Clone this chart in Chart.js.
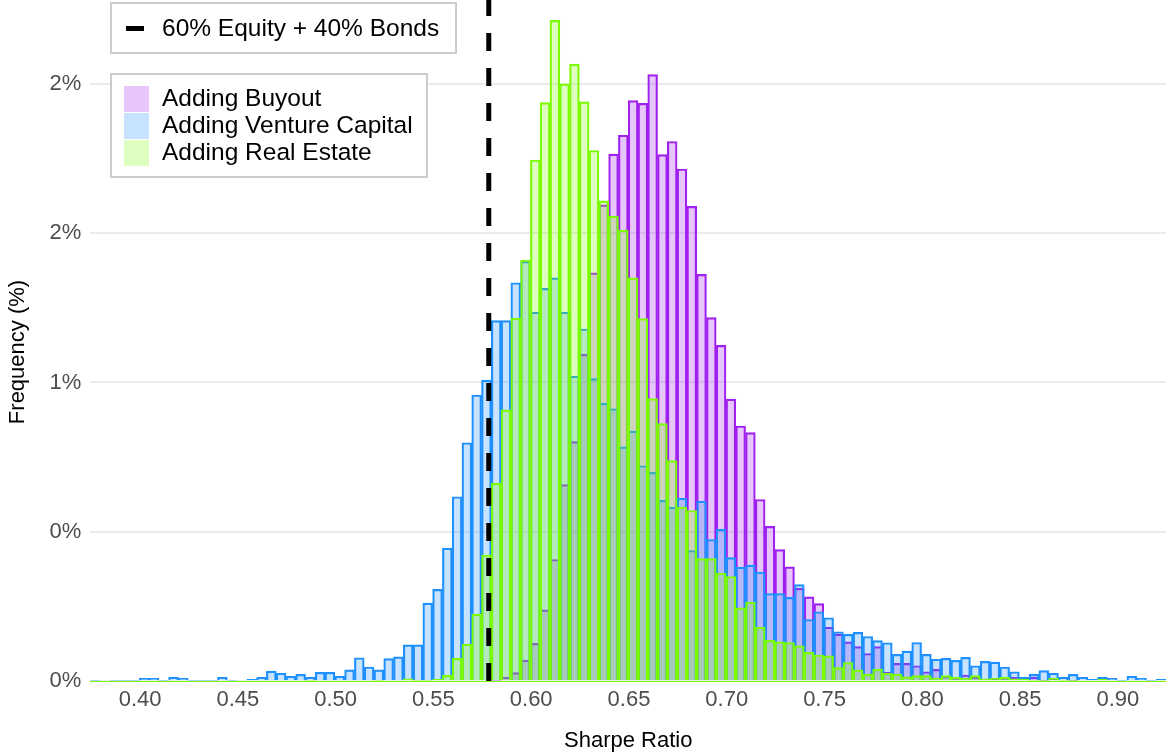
<!DOCTYPE html>
<html>
<head>
<meta charset="utf-8">
<script src="https://cdn.jsdelivr.net/npm/chart.js@4/dist/chart.umd.min.js"></script>
<style>
  body { margin: 0; background: #fff; }
  #wrap { width: 1166px; height: 756px; position: relative; }
</style>
</head>
<body>
<div id="wrap"><canvas id="chartSharpe"></canvas></div>
<script>
// histogram bins (Sharpe ratio), 0.005 wide
const binStart = 0.3746;
const binWidth = 0.005;

// frequency in %, one value per bin
const buyout = [
  0, 0, 0, 0, 0, 0, 0, 0, 0, 0,
  0, 0, 0, 0, 0, 0, 0, 0, 0, 0,
  0, 0, 0, 0, 0, 0, 0, 0, 0, 0,
  0, 0, 0, 0, 0, 0, 0, 0, 0, 0,
  0, 0.003, 0.012, 0.028, 0.070, 0.126, 0.238, 0.407, 0.658, 0.802,
  1.094, 1.367, 1.595, 1.765, 1.828, 1.944, 1.935, 2.031, 1.763, 1.807,
  1.715, 1.590, 1.362, 1.217, 1.124, 0.944, 0.854, 0.832, 0.608, 0.518,
  0.440, 0.382, 0.310, 0.282, 0.259, 0.180, 0.157, 0.131, 0.115, 0.092,
  0.115, 0.029, 0.059, 0.059, 0.051, 0.031, 0.039, 0.015, 0.009, 0.020,
  0.012, 0.004, 0.006, 0.009, 0.012, 0.009, 0.012, 0.003, 0.006, 0,
  0.003, 0, 0, 0, 0, 0, 0, 0, 0, 0
];
const ventureCapital = [
  0.003, 0, 0.003, 0.003, 0.003, 0.009, 0.009, 0.003, 0.012, 0.009,
  0.003, 0.003, 0.003, 0.012, 0.003, 0, 0.006, 0.012, 0.033, 0.026,
  0.016, 0.022, 0.012, 0.029, 0.029, 0.016, 0.037, 0.078, 0.047, 0.037,
  0.075, 0.081, 0.121, 0.121, 0.261, 0.307, 0.445, 0.617, 0.798, 0.958,
  1.008, 1.207, 1.207, 1.334, 1.405, 1.235, 1.315, 1.350, 1.235, 1.021,
  1.179, 1.013, 0.930, 0.912, 0.784, 0.837, 0.721, 0.699, 0.605, 0.582,
  0.612, 0.437, 0.602, 0.474, 0.508, 0.413, 0.381, 0.388, 0.365, 0.293,
  0.293, 0.280, 0.323, 0.206, 0.232, 0.212, 0.165, 0.156, 0.163, 0.149,
  0.135, 0.128, 0.089, 0.100, 0.129, 0.089, 0.073, 0.076, 0.069, 0.079,
  0.051, 0.066, 0.063, 0.047, 0.031, 0.012, 0.022, 0.035, 0.026, 0.012,
  0.022, 0.012, 0.006, 0.012, 0.009, 0.003, 0.016, 0.009, 0.003, 0.006
];
const realEstate = [
  0, 0, 0, 0, 0, 0, 0, 0, 0, 0,
  0, 0, 0, 0, 0, 0, 0, 0, 0, 0,
  0, 0, 0.003, 0, 0, 0, 0, 0, 0, 0.003,
  0, 0, 0.007, 0.003, 0.003, 0.006, 0.019, 0.076, 0.123, 0.224,
  0.422, 0.662, 0.908, 1.215, 1.410, 1.745, 1.937, 2.213, 2.000, 2.066,
  1.940, 1.777, 1.608, 1.557, 1.510, 1.350, 1.214, 0.946, 0.862, 0.738,
  0.582, 0.571, 0.410, 0.410, 0.361, 0.350, 0.245, 0.264, 0.180, 0.136,
  0.131, 0.129, 0.118, 0.096, 0.087, 0.084, 0.045, 0.062, 0.037, 0.023,
  0.040, 0.026, 0.023, 0.014, 0.018, 0.018, 0.009, 0.018, 0.012, 0.009,
  0.018, 0.007, 0.009, 0.012, 0.007, 0.006, 0.003, 0.003, 0.009, 0.003,
  0.003, 0, 0, 0.006, 0, 0, 0, 0, 0, 0
];

// 60/40 benchmark Sharpe ratio
const benchmarkSharpe = 0.5783;

const seriesNames = ['Adding Buyout', 'Adding Venture Capital', 'Adding Real Estate'];
const benchmarkName = '60% Equity + 40% Bonds';

const xTicks = [0.40, 0.45, 0.50, 0.55, 0.60, 0.65, 0.70, 0.75, 0.80, 0.85, 0.90];
const yTicks = [0, 0.5, 1, 1.5, 2];
const yTickLabels = ['0%', '0%', '1%', '2%', '2%'];

const xMin = 0.3746, xMax = 0.9246;
const yMax = 2.281;

const binCenters = buyout.map((_, i) => binStart + binWidth * (i + 0.5));
const toPoints = arr => arr.map((v, i) => ({ x: binCenters[i], y: v }));

const FONT = '"Liberation Sans", Arial, sans-serif';
const colors = [
  { line: '#A020F0', fill: 'rgba(160,32,240,0.25)' },
  { line: '#1E90FF', fill: 'rgba(30,144,255,0.25)' },
  { line: '#7CFC00', fill: 'rgba(124,252,0,0.25)' }
];

function barSet(i, arr, order) {
  return {
    type: 'bar',
    label: seriesNames[i],
    data: toPoints(arr),
    backgroundColor: colors[i].fill,
    borderColor: colors[i].line,
    borderWidth: 1.5,
    borderSkipped: 'start',
    grouped: false,
    barPercentage: 1,
    categoryPercentage: 1,
    order: order
  };
}

// legend boxes inside the plot + y title
const boxLegends = {
  id: 'boxLegends',
  afterDraw(chart) {
    const ctx = chart.ctx;
    ctx.save();
    ctx.font = '24.5px ' + FONT;
    ctx.textBaseline = 'middle';
    ctx.textAlign = 'left';
    ctx.lineWidth = 2;
    ctx.strokeStyle = '#cccccc';

    // benchmark
    ctx.fillStyle = '#fff';
    ctx.fillRect(111, 3, 345, 50);
    ctx.strokeRect(111, 3, 345, 50);
    ctx.fillStyle = '#000';
    ctx.fillRect(126, 26, 18, 5);
    ctx.fillText(benchmarkName, 162, 29);

    // series
    ctx.fillStyle = '#fff';
    ctx.fillRect(111, 74, 316, 103);
    ctx.strokeRect(111, 74, 316, 103);
    seriesNames.forEach((name, i) => {
      const y = 86 + i * 27;
      ctx.fillStyle = colors[i].fill;
      ctx.fillRect(124, y, 25, 26);
      ctx.fillStyle = '#000';
      ctx.fillText(name, 162, y + 13);
    });

    // y axis title
    ctx.translate(18, 352);
    ctx.rotate(-Math.PI / 2);
    ctx.textAlign = 'center';
    ctx.font = '22px ' + FONT;
    ctx.fillStyle = '#000';
    ctx.fillText('Frequency (%)', 0, 0);
    ctx.restore();
  }
};

new Chart(document.getElementById('chartSharpe'), {
  data: {
    datasets: [
      barSet(0, buyout, 4),
      barSet(1, ventureCapital, 3),
      barSet(2, realEstate, 2),
      {
        type: 'line',
        label: benchmarkName,
        data: [{ x: benchmarkSharpe, y: 0 }, { x: benchmarkSharpe, y: yMax }],
        borderColor: '#000',
        borderWidth: 5,
        borderDash: [18, 17],
        pointRadius: 0,
        order: 1
      }
    ]
  },
  options: {
    responsive: true,
    maintainAspectRatio: false,
    animation: false,
    layout: { padding: 0 },
    plugins: {
      legend: { display: false },
      tooltip: { enabled: false }
    },
    scales: {
      x: {
        type: 'linear',
        min: xMin,
        max: xMax,
        offset: false,
        afterBuildTicks: s => { s.ticks = xTicks.map(v => ({ value: v })); },
        afterFit: s => { s.height = 75; s.paddingLeft = 0; s.paddingRight = 0; },
        grid: { display: false, drawTicks: false },
        border: { display: true, color: '#7CFC00', width: 1 },
        ticks: {
          padding: 6,
          color: '#4D4D4D',
          font: { family: FONT, size: 22 },
          maxRotation: 0,
          callback: v => v.toFixed(2)
        },
        title: {
          display: true,
          text: 'Sharpe Ratio',
          color: '#000',
          font: { family: FONT, size: 22 },
          padding: { top: 4, bottom: 2 }
        }
      },
      y: {
        min: 0,
        max: yMax,
        afterBuildTicks: s => { s.ticks = yTicks.map(v => ({ value: v })); },
        afterFit: s => { s.width = 90.4; s.paddingTop = 0; s.paddingBottom = 0; },
        grid: { color: '#EBEBEB', lineWidth: 2, drawTicks: false },
        border: { display: false },
        ticks: {
          padding: 9,
          color: '#4D4D4D',
          font: { family: FONT, size: 22 },
          callback: (v, i) => yTickLabels[i]
        },
        title: { display: false }
      }
    }
  },
  plugins: [boxLegends]
});
</script>
</body>
</html>
